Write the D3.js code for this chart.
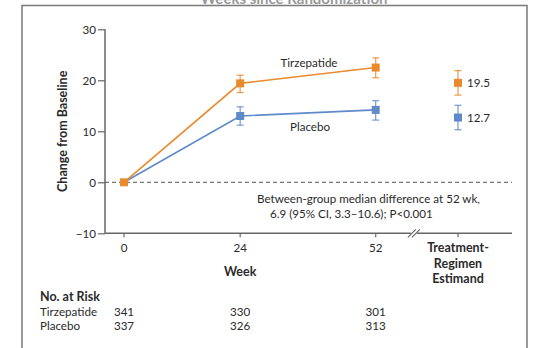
<!DOCTYPE html>
<html>
<head>
<meta charset="utf-8">
<script src="https://cdn.jsdelivr.net/npm/d3@7"></script>
<style>
  body { margin: 0; background: #fff; }
  svg { display: block; }
  text { font-family: Lato, "Open Sans", sans-serif; fill: #2a2a2a; }
</style>
</head>
<body>
<div id="chart"></div>
<script>
// Data
const weeks = [0, 24, 52];
const tirzepatide = [0, 19.4, 22.5];
const tirzLow = [0, 17.6, 20.5];
const tirzHigh = [0, 21.0, 24.4];
const placebo = [0, 13.0, 14.2];
const placLow = [0, 11.2, 12.2];
const placHigh = [0, 14.8, 16.0];

// treatment-regimen estimand (shown right of the axis break)
const estimandPos = 69; // position in week units
const estimand = { tirz: [19.5, 17.1, 21.9], plac: [12.7, 10.3, 15.1] };

const yTicks = [-10, 0, 10, 20, 30];
const riskNames = ["Tirzepatide", "Placebo"];
const riskTirz = [341, 330, 301];
const riskPlac = [337, 326, 313];

const orange = "#e98a2e";
const blue = "#5e8ac9";
const axisColor = "#666";
const fs = "11.6px";

const width = 539, height = 348;

const svg = d3.select("#chart").append("svg")
  .attr("width", width)
  .attr("height", height);

// outer frame (bottom edge runs off the picture)
svg.append("path")
  .attr("d", "M22,352 L22,5.5 L527,5.5 L527,352")
  .attr("fill", "none")
  .attr("stroke", "#7a7a7a")
  .attr("stroke-width", 1.5);

// clipped heading from the panel above
svg.append("text")
  .attr("x", 294)
  .attr("y", 4)
  .attr("text-anchor", "middle")
  .attr("font-size", "15px")
  .attr("font-weight", "bold")
  .style("fill", "#999")
  .text("Weeks since Randomization");

const x = d3.scaleLinear().domain([0, 52]).range([124, 375.7]);
const y = d3.scaleLinear().domain([-10, 30]).range([233.3, 29.3]);

// y axis
const yAxis = svg.append("g")
  .attr("transform", "translate(105,0)")
  .call(d3.axisLeft(y).tickValues(yTicks).tickSize(7).tickPadding(2)
    .tickFormat(d => d < 0 ? "\u2212" + Math.abs(d) : d));
yAxis.select(".domain").attr("stroke", axisColor).attr("stroke-width", 1.5)
  .attr("d", `M0,${y(30)}H0V${y(-10)}`);
yAxis.selectAll(".tick line").attr("stroke", axisColor).attr("stroke-width", 1.2);
yAxis.selectAll(".tick text").attr("font-size", fs)
  .style("font-family", "Lato, sans-serif").style("fill", "#2a2a2a");

// x axis line
svg.append("line")
  .attr("x1", 105).attr("x2", 512)
  .attr("y1", y(-10)).attr("y2", y(-10))
  .attr("stroke", axisColor).attr("stroke-width", 1.5);

const xTickPos = weeks.map(w => x(w)).concat([x(estimandPos)]);
svg.selectAll(".xtick")
  .data(xTickPos)
  .enter().append("line")
  .attr("x1", d => d).attr("x2", d => d)
  .attr("y1", y(-10)).attr("y2", y(-10) + 4)
  .attr("stroke", axisColor).attr("stroke-width", 1.2);

svg.selectAll(".xlab")
  .data(weeks)
  .enter().append("text")
  .attr("x", d => x(d))
  .attr("y", 252)
  .attr("text-anchor", "middle")
  .attr("font-size", fs)
  .text(d => d);

// axis break
const bx = (x(52) + x(estimandPos)) / 2 - 3;
svg.append("rect")
  .attr("x", bx - 3).attr("y", y(-10) - 2)
  .attr("width", 6).attr("height", 4)
  .attr("fill", "#fff");
[-2, 2].forEach(off => {
  svg.append("line")
    .attr("x1", bx + off - 4).attr("x2", bx + off + 4)
    .attr("y1", y(-10) + 4).attr("y2", y(-10) - 4)
    .attr("stroke", axisColor).attr("stroke-width", 1.2);
});

// zero reference
svg.append("line")
  .attr("x1", 105).attr("x2", 512)
  .attr("y1", y(0)).attr("y2", y(0))
  .attr("stroke", "#555")
  .attr("stroke-width", 1)
  .attr("stroke-dasharray", "4,3");

// axis titles
svg.append("text")
  .attr("transform", `translate(67,${(y(30) + y(-10)) / 2}) rotate(-90)`)
  .attr("text-anchor", "middle")
  .attr("font-size", "12.5px")
  .attr("font-weight", "bold")
  .text("Change from Baseline");

svg.append("text")
  .attr("x", x(24)).attr("y", 276)
  .attr("text-anchor", "middle")
  .attr("font-size", "12.5px")
  .attr("font-weight", "bold")
  .text("Week");

["Treatment-", "Regimen", "Estimand"].forEach((t, i) => {
  svg.append("text")
    .attr("x", x(estimandPos)).attr("y", 252 + i * 15.5)
    .attr("text-anchor", "middle")
    .attr("font-size", "12.5px")
    .attr("font-weight", "bold")
    .text(t);
});

// series
function drawSeries(vals, lo, hi, color) {
  const pts = weeks.map((w, i) => ({ w, v: vals[i], lo: lo[i], hi: hi[i] }));
  const line = d3.line().x(d => x(d.w)).y(d => y(d.v));
  svg.append("path")
    .attr("d", line(pts))
    .attr("fill", "none")
    .attr("stroke", color)
    .attr("stroke-width", 1.6);
  drawPoints(pts.slice(1), color);
}

function drawPoints(pts, color) {
  const g = svg.append("g");
  pts.forEach(d => {
    const cx = d.px !== undefined ? d.px : x(d.w);
    g.append("line")
      .attr("x1", cx).attr("x2", cx)
      .attr("y1", y(d.lo)).attr("y2", y(d.hi))
      .attr("stroke", color).attr("stroke-width", 1.2).attr("opacity", 0.85);
    [d.lo, d.hi].forEach(v => {
      g.append("line")
        .attr("x1", cx - 3.5).attr("x2", cx + 3.5)
        .attr("y1", y(v)).attr("y2", y(v))
        .attr("stroke", color).attr("stroke-width", 1.2).attr("opacity", 0.85);
    });
    g.append("rect")
      .attr("x", cx - 4).attr("y", y(d.v) - 4)
      .attr("width", 8).attr("height", 8)
      .attr("fill", color);
  });
}

drawSeries(placebo, placLow, placHigh, blue);
drawSeries(tirzepatide, tirzLow, tirzHigh, orange);

// baseline point
svg.append("rect")
  .attr("x", x(0) - 4).attr("y", y(0) - 4)
  .attr("width", 8).attr("height", 8)
  .attr("fill", orange);

// estimand points
drawPoints([{ px: x(estimandPos), v: estimand.tirz[0], lo: estimand.tirz[1], hi: estimand.tirz[2] }], orange);
drawPoints([{ px: x(estimandPos), v: estimand.plac[0], lo: estimand.plac[1], hi: estimand.plac[2] }], blue);

svg.append("text")
  .attr("x", x(estimandPos) + 9).attr("y", y(estimand.tirz[0]) + 4)
  .attr("font-size", fs)
  .text(estimand.tirz[0].toFixed(1));
svg.append("text")
  .attr("x", x(estimandPos) + 9).attr("y", y(estimand.plac[0]) + 4)
  .attr("font-size", fs)
  .text(estimand.plac[0].toFixed(1));

// series labels
svg.append("text")
  .attr("x", 309).attr("y", 67)
  .attr("text-anchor", "middle")
  .attr("font-size", fs)
  .text("Tirzepatide");
svg.append("text")
  .attr("x", 310).attr("y", 131)
  .attr("text-anchor", "middle")
  .attr("font-size", fs)
  .text("Placebo");

// annotation
svg.append("text")
  .attr("x", 257).attr("y", 203)
  .attr("font-size", fs)
  .text("Between-group median difference at 52 wk,");
svg.append("text")
  .attr("x", 270).attr("y", 218)
  .attr("font-size", fs)
  .text("6.9 (95% CI, 3.3\u201310.6); P<0.001");

// number at risk
svg.append("text")
  .attr("x", 40).attr("y", 301)
  .attr("font-size", "12.5px")
  .attr("font-weight", "bold")
  .text("No. at Risk");

[riskTirz, riskPlac].forEach((row, r) => {
  const yy = 316 + r * 13.5;
  svg.append("text")
    .attr("x", 40).attr("y", yy)
    .attr("font-size", fs)
    .text(riskNames[r]);
  svg.selectAll(null)
    .data(row)
    .enter().append("text")
    .attr("x", (d, i) => x(weeks[i]))
    .attr("y", yy)
    .attr("text-anchor", "middle")
    .attr("font-size", fs)
    .text(d => d);
});
</script>
</body>
</html>
